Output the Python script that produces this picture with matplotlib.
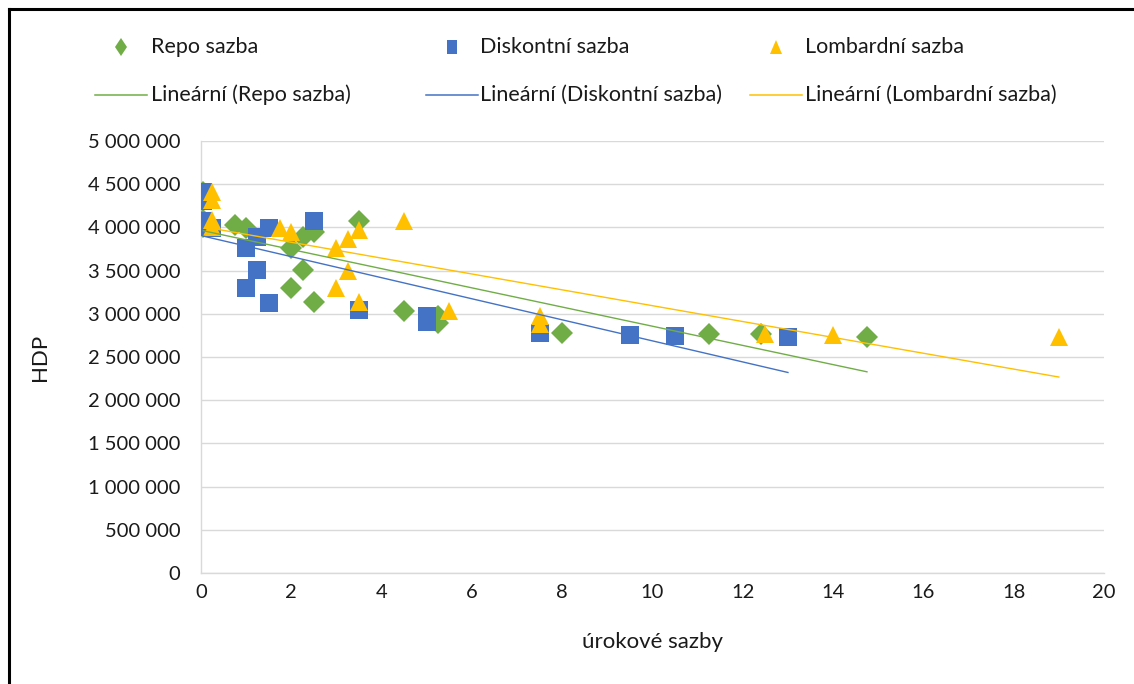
import numpy as np
import matplotlib.pyplot as plt
from matplotlib.lines import Line2D
from matplotlib.markers import MarkerStyle
from matplotlib.transforms import Affine2D
from matplotlib.ticker import FuncFormatter, MultipleLocator

plt.rcParams['font.family'] = ['Lato', 'DejaVu Sans']

# úrokové sazby (%) a HDP (v milionech)
repo_x = [0.05, 0.05, 0.05, 0.05, 0.75, 1.0, 2.25, 2.5, 2.0, 2.25, 2.0, 2.5,
          3.5, 4.5, 5.25, 5.25, 8.0, 11.25, 12.4, 14.75]
repo_y = [4.41, 4.32, 4.09, 4.01, 4.03, 3.99, 3.89, 3.95, 3.76, 3.51, 3.30, 3.14,
          4.07, 3.03, 2.97, 2.89, 2.78, 2.77, 2.77, 2.73]

disk_x = [0.05, 0.05, 0.05, 0.05, 0.25, 1.0, 1.25, 1.5, 1.25, 1.0, 1.5, 2.5,
          3.5, 5.0, 5.0, 7.5, 9.5, 10.5, 13.0]
disk_y = [4.41, 4.30, 4.07, 4.01, 3.99, 3.76, 3.89, 3.99, 3.51, 3.30, 3.13, 4.07,
          3.04, 2.97, 2.90, 2.78, 2.755, 2.74, 2.73]

lomb_x = [0.25, 0.25, 0.25, 0.25, 1.75, 2.0, 3.5, 3.25, 3.0, 3.25, 3.0, 3.5,
          4.5, 5.5, 7.5, 7.5, 12.5, 14.0, 19.0]
lomb_y = [4.41, 4.32, 4.09, 4.01, 3.99, 3.95, 3.97, 3.87, 3.76, 3.49, 3.30, 3.14,
          4.07, 3.03, 2.98, 2.88, 2.77, 2.755, 2.735]

names = ['Repo sazba', 'Diskontní sazba', 'Lombardní sazba']
colors = ['#70AD47', '#4472C4', '#FFC000']
markers = ['D', 's', '^']
msizes = [11, 13.5, 12.5]
txt = '#1a1a1a'

W, H = 1134, 684
fig = plt.figure(figsize=(W / 100, H / 100), dpi=100)
ax = fig.add_axes([201 / W, 1 - 573 / H, (1104 - 201) / W, (573 - 141) / H])

series = [(repo_x, repo_y), (disk_x, disk_y), (lomb_x, lomb_y)]

# body
for (sx, sy), c, m, ms in zip(series, colors, markers, msizes):
    ax.plot(sx, np.array(sy) * 1e6, linestyle='none', marker=m, markersize=ms,
            color=c, markeredgewidth=0, zorder=3)

# lineární trendy
for (sx, sy), c in zip(series, colors):
    sx = np.array(sx)
    k, q = np.polyfit(sx, np.array(sy) * 1e6, 1)
    xx = np.array([sx.min(), sx.max()])
    ax.plot(xx, k * xx + q, color=c, lw=1.0, zorder=4)

ax.set_xlim(0, 20)
ax.set_ylim(0, 5e6)
ax.xaxis.set_major_locator(MultipleLocator(2))
ax.yaxis.set_major_locator(MultipleLocator(5e5))
ax.yaxis.set_major_formatter(FuncFormatter(lambda v, p: f'{int(v):,}'.replace(',', ' ')))
ax.grid(axis='y', color='#D9D9D9', lw=1)
ax.set_axisbelow(True)
for s in ['top', 'right']:
    ax.spines[s].set_visible(False)
for s in ['left', 'bottom']:
    ax.spines[s].set_color('#D9D9D9')
    ax.spines[s].set_linewidth(1)
ax.tick_params(length=0, labelsize=14.5, colors=txt)
ax.tick_params(axis='y', pad=15)
ax.tick_params(axis='x', pad=8)
ax.set_xlabel('úrokové sazby', fontsize=16, color=txt, labelpad=22)
ax.set_ylabel('HDP', fontsize=16, color=txt, labelpad=27)

# legenda - úzké značky jako v Excelu
leg_marks = [MarkerStyle('D', transform=Affine2D().scale(0.62, 1.0)),
             MarkerStyle('s', transform=Affine2D().scale(0.62, 1.0)),
             MarkerStyle('^', transform=Affine2D().scale(0.8, 1.0))]
leg_ms = [9.5, 10.5, 10]
hx = [121, 452, 776]
tx = [151, 480, 805]
rows = [47, 95]
for i in range(3):
    fig.add_artist(Line2D([hx[i] / W], [1 - rows[0] / H], transform=fig.transFigure,
                          marker=leg_marks[i], markersize=leg_ms[i],
                          color=colors[i], markeredgewidth=0, linestyle='none'))
    fig.text(tx[i] / W, 1 - rows[0] / H, names[i], fontsize=15.5, color=txt,
             va='center', ha='left')
    fig.add_artist(Line2D([(hx[i] - 26) / W, (hx[i] + 26) / W], [1 - rows[1] / H] * 2,
                          transform=fig.transFigure, color=colors[i], lw=1.1))
    fig.text(tx[i] / W, 1 - rows[1] / H, 'Lineární (' + names[i] + ')', fontsize=15.5,
             color=txt, va='center', ha='left')

# rámeček
fig.add_artist(Line2D([9 / W, 9 / W], [0, 1 - 9 / H], transform=fig.transFigure,
                      color='black', lw=2.2))
fig.add_artist(Line2D([9 / W, 1], [1 - 9 / H, 1 - 9 / H], transform=fig.transFigure,
                      color='black', lw=2.2))

fig.savefig('out.png', dpi=100)
